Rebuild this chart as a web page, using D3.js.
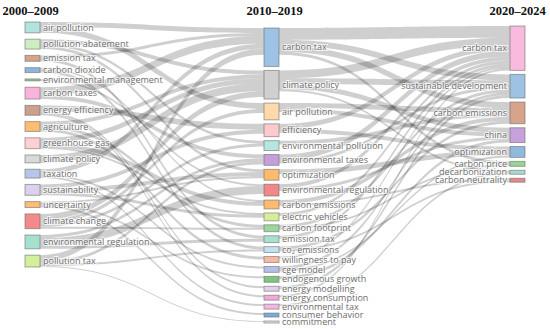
<!DOCTYPE html>
<html><head><meta charset="utf-8">
<script src="https://cdn.jsdelivr.net/npm/d3@7"></script>
<style>
html,body{margin:0;padding:0;background:#fff;}
svg{display:block;}
</style></head><body>
<svg id="chart" width="550" height="329"></svg>
<script>
// ---------- DATA ----------
const periods = ["2000–2009", "2010–2019", "2020–2024"];

const keywords2000 = ["air pollution","pollution abatement","emission tax","carbon dioxide","environmental management","carbon taxes","energy efficiency","agriculture","greenhouse gas","climate policy","taxation","sustainability","uncertainty","climate change","environmental regulation","pollution tax"];
const weights2000 = [11,10,6,5,2,12,10,10,11,8,9,11,6,15,14,12];

const keywords2010 = ["carbon tax","climate policy","air pollution","efficiency","environmental pollution","environmental taxes","optimization","environmental regulation","carbon emissions","electric vehicles","carbon footprint","emission tax","co₂ emissions","willingness to pay","cge model","endogenous growth","energy modelling","energy consumption","environmental tax","consumer behavior","commitment"];
const weights2010 = [39,29,17,13,10,11,11,12,9,8,7,7,6,6,6,6,5,5,5,4,2];

const keywords2020 = ["carbon tax","sustainable development","carbon emissions","china","optimization","carbon price","decarbonization","carbon neutrality"];
const weights2020 = [45,24,22,15,11,5,4,4];

// flows 2000–2009 -> 2010–2019 : [source, target, value]
const flows1 = [
  ["air pollution","carbon tax",5],["air pollution","air pollution",6],
  ["pollution abatement","climate policy",4],["pollution abatement","environmental pollution",3],["pollution abatement","optimization",3],
  ["emission tax","carbon tax",3],["emission tax","emission tax",3],
  ["carbon dioxide","carbon emissions",2],["carbon dioxide","co₂ emissions",3],
  ["environmental management","environmental regulation",2],
  ["carbon taxes","carbon tax",8],["carbon taxes","environmental taxes",4],
  ["energy efficiency","efficiency",6],["energy efficiency","energy modelling",2],["energy efficiency","energy consumption",2],
  ["agriculture","climate policy",4],["agriculture","carbon footprint",3],["agriculture","willingness to pay",3],
  ["greenhouse gas","climate policy",5],["greenhouse gas","carbon emissions",4],["greenhouse gas","electric vehicles",2],
  ["climate policy","climate policy",8],
  ["taxation","carbon tax",5],["taxation","cge model",2],["taxation","environmental tax",2],
  ["sustainability","efficiency",4],["sustainability","optimization",4],["sustainability","electric vehicles",3],
  ["uncertainty","optimization",2],["uncertainty","endogenous growth",2],["uncertainty","consumer behavior",2],
  ["climate change","climate policy",6],["climate change","air pollution",4],["climate change","environmental pollution",3],["climate change","carbon footprint",2],
  ["environmental regulation","environmental taxes",3],["environmental regulation","environmental regulation",8],["environmental regulation","emission tax",3],
  ["pollution tax","carbon tax",6],["pollution tax","environmental taxes",3],["pollution tax","co₂ emissions",2],["pollution tax","commitment",1]
];

// flows 2010–2019 -> 2020–2024
const flows2 = [
  ["carbon tax","carbon tax",12],["carbon tax","sustainable development",6],["carbon tax","carbon emissions",6],["carbon tax","carbon price",3],
  ["climate policy","carbon tax",8],["climate policy","sustainable development",6],["climate policy","china",5],["climate policy","decarbonization",2],
  ["air pollution","carbon emissions",5],["air pollution","china",4],
  ["efficiency","carbon tax",5],["efficiency","optimization",4],
  ["environmental pollution","carbon emissions",4],
  ["environmental taxes","carbon tax",6],["environmental taxes","sustainable development",3],
  ["optimization","optimization",5],
  ["environmental regulation","carbon tax",4],["environmental regulation","china",3],
  ["carbon emissions","carbon emissions",4],["carbon emissions","carbon neutrality",2],
  ["electric vehicles","carbon tax",3],
  ["carbon footprint","sustainable development",3],["carbon footprint","carbon price",2],
  ["emission tax","carbon tax",3],
  ["co₂ emissions","carbon emissions",3],["co₂ emissions","carbon neutrality",2],
  ["willingness to pay","carbon tax",2],
  ["cge model","sustainable development",3],["cge model","optimization",2],
  ["endogenous growth","china",3],
  ["energy modelling","sustainable development",3],
  ["energy consumption","carbon tax",2],
  ["environmental tax","decarbonization",2]
];

// ---------- STYLE / LAYOUT ----------
const colors2000 = ["#b3e3de","#cdeec3","#d4a587","#8cb6dc","#98c898","#f7b3da","#c9a18d","#fdbe74","#fcd0d4","#d9d9d9","#b7c5e9","#ddd0eb","#fdbd73","#f28a8c","#a6dfcd","#d4ee9b"];
const colors2010 = ["#9cc2e5","#d0d0d0","#fdd9ab","#fcc9cd","#b5e6df","#c59fd9","#fdbb6f","#f0878a","#fdbb6f","#d6ee9c","#9dd69a","#a7dfd0","#c4e0f2","#f7b9a1","#b6bfe4","#80c680","#e2d1ec","#f3a9da","#f5b8df","#7aaed8","#e6e6e6"];
const colors2020 = ["#f9bbdd","#9ec2e4","#d5a48a","#c7a1db","#8fbade","#98d496","#a6dcd0","#e8888a"];

const W = 550, H = 329;
const nodeWidth = 15, pad = 4;
const columnX = d3.scaleOrdinal().domain([0,1,2]).range([25, 264, 510]);
const columnBand = [
  {top: 22, bottom: 267, mode: "spread"},
  {top: 28, bottom: 323, mode: "spread"},
  {top: 26, bottom: null, mode: "pack"}
];

const columns = [
  {names: keywords2000, values: weights2000, colors: colors2000},
  {names: keywords2010, values: weights2010, colors: colors2010},
  {names: keywords2020, values: weights2020, colors: colors2020}
];

// value -> pixel height, fitted on the densest column
const h = d3.scaleLinear()
  .domain([0, d3.sum(weights2010)])
  .range([0, (columnBand[1].bottom - columnBand[1].top) - (weights2010.length - 1) * pad]);

const nodeCols = columns.map((c, ci) => c.names.map((n, i) => ({
  name: n, col: ci, value: c.values[i], color: c.colors[i], sourceLinks: [], targetLinks: []
})));

nodeCols.forEach((col, ci) => {
  const band = columnBand[ci];
  const total = d3.sum(col, d => h(d.value));
  const gap = band.mode === "spread" ? (band.bottom - band.top - total) / (col.length - 1) : pad;
  let y = band.top;
  col.forEach(n => {
    n.x0 = columnX(ci); n.x1 = n.x0 + nodeWidth;
    n.y0 = y; n.y1 = y + h(n.value); y = n.y1 + gap;
  });
});

const find = (ci, name) => nodeCols[ci].find(n => n.name === name);
const links = [];
[flows1, flows2].forEach((fl, k) => fl.forEach(([s, t, v]) => {
  const l = {source: find(k, s), target: find(k + 1, t), value: v};
  l.source.sourceLinks.push(l); l.target.targetLinks.push(l);
  links.push(l);
}));

nodeCols.flat().forEach(n => {
  n.sourceLinks.sort((a, b) => a.target.y0 - b.target.y0);
  n.targetLinks.sort((a, b) => a.source.y0 - b.source.y0);
  let y = n.y0;
  n.sourceLinks.forEach(l => { l.sy0 = y; l.sy1 = y + h(l.value); y = l.sy1; });
  y = n.y0;
  n.targetLinks.forEach(l => { l.ty0 = y; l.ty1 = y + h(l.value); y = l.ty1; });
});

function ribbon(l) {
  const x0 = l.source.x1, x1 = l.target.x0, xm = (x0 + x1) / 2;
  return `M${x0},${l.sy0}C${xm},${l.sy0} ${xm},${l.ty0} ${x1},${l.ty0}` +
         `L${x1},${l.ty1}C${xm},${l.ty1} ${xm},${l.sy1} ${x0},${l.sy1}Z`;
}

// ---------- DRAW ----------
const svg = d3.select("#chart");
svg.append("rect").attr("width", W).attr("height", H).attr("fill", "#fff");

svg.append("g").selectAll("path").data(links).join("path")
  .attr("d", ribbon)
  .attr("fill", "rgba(0,0,0,0.19)");

const allNodes = nodeCols.flat();
svg.append("g").selectAll("rect").data(allNodes).join("rect")
  .attr("x", d => d.x0).attr("y", d => d.y0)
  .attr("width", d => d.x1 - d.x0).attr("height", d => Math.max(1, d.y1 - d.y0))
  .attr("fill", d => d.color)
  .attr("stroke", "rgba(100,100,100,0.55)").attr("stroke-width", 1);

svg.append("g").selectAll("text").data(allNodes).join("text")
  .attr("x", d => d.col === 2 ? d.x0 - 3 : d.x1 + 3)
  .attr("y", d => (d.y0 + d.y1) / 2)
  .attr("dy", "0.35em")
  .attr("text-anchor", d => d.col === 2 ? "end" : "start")
  .attr("font-family", "'Open Sans', sans-serif")
  .attr("font-size", 9)
  .attr("fill", "#6c6c6c")
  .attr("stroke", "rgba(255,255,255,0.7)").attr("stroke-width", 2)
  .attr("paint-order", "stroke")
  .text(d => d.name);

svg.append("g").selectAll("text").data(periods).join("text")
  .attr("x", (d, i) => columnX(i) + nodeWidth / 2 + (i === 0 ? -2 : i === 1 ? 3 : 0))
  .attr("y", 14.5)
  .attr("text-anchor", "middle")
  .attr("font-family", "'Liberation Serif', serif")
  .attr("font-weight", "bold")
  .attr("font-size", 12.5)
  .attr("fill", "#111")
  .text(d => d);
</script>
</body></html>
